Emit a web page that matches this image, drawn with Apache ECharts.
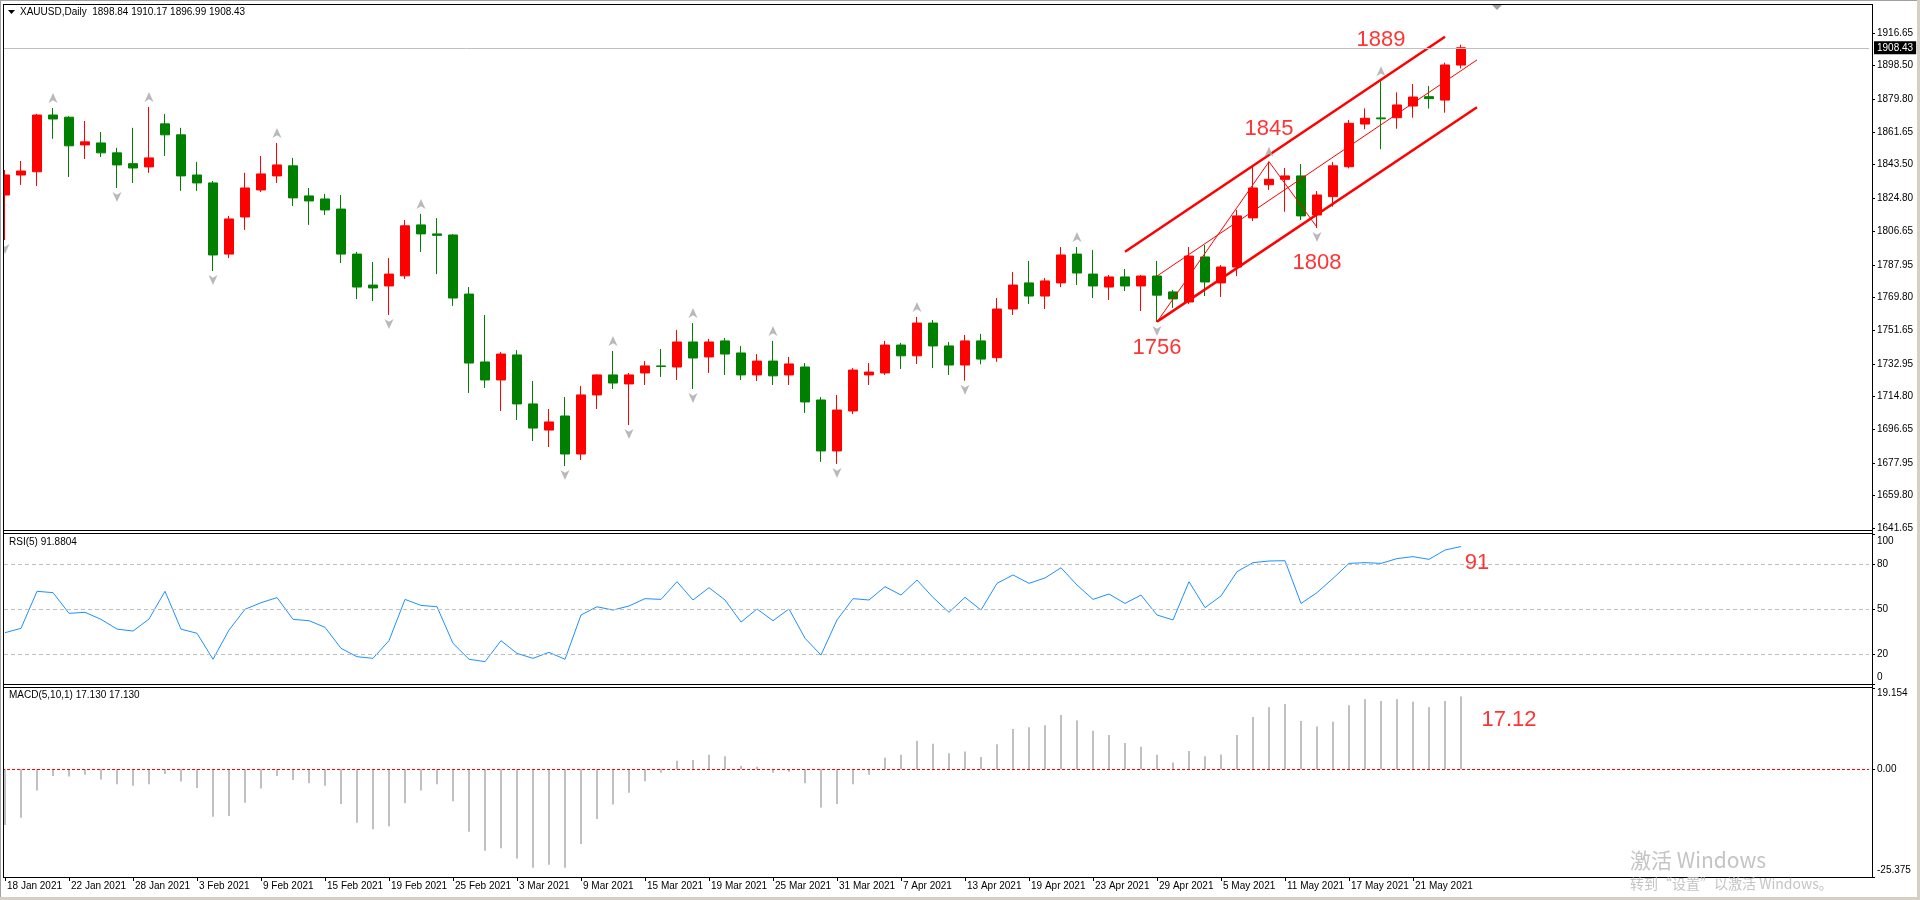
<!DOCTYPE html>
<html><head><meta charset="utf-8">
<script src="https://cdn.jsdelivr.net/npm/echarts@6/dist/echarts.min.js"></script>
<style>html,body{margin:0;padding:0;background:#fff}#c{width:1920px;height:900px}</style>
</head><body><div id="c"></div>
<script>
// ---------- DATA ----------
const dates = ['2021-01-18','2021-01-19','2021-01-20','2021-01-21','2021-01-22','2021-01-25','2021-01-26','2021-01-27','2021-01-28','2021-01-29',
'2021-02-01','2021-02-02','2021-02-03','2021-02-04','2021-02-05','2021-02-08','2021-02-09','2021-02-10','2021-02-11','2021-02-12',
'2021-02-15','2021-02-16','2021-02-17','2021-02-18','2021-02-19','2021-02-22','2021-02-23','2021-02-24','2021-02-25','2021-02-26',
'2021-03-01','2021-03-02','2021-03-03','2021-03-04','2021-03-05','2021-03-08','2021-03-09','2021-03-10','2021-03-11','2021-03-12',
'2021-03-15','2021-03-16','2021-03-17','2021-03-18','2021-03-19','2021-03-22','2021-03-23','2021-03-24','2021-03-25','2021-03-26',
'2021-03-29','2021-03-30','2021-03-31','2021-04-01','2021-04-05','2021-04-06','2021-04-07','2021-04-08','2021-04-09','2021-04-12',
'2021-04-13','2021-04-14','2021-04-15','2021-04-16','2021-04-19','2021-04-20','2021-04-21','2021-04-22','2021-04-23','2021-04-26',
'2021-04-27','2021-04-28','2021-04-29','2021-04-30','2021-05-03','2021-05-04','2021-05-05','2021-05-06','2021-05-07','2021-05-10',
'2021-05-11','2021-05-12','2021-05-13','2021-05-14','2021-05-17','2021-05-18','2021-05-19','2021-05-20','2021-05-21','2021-05-24',
'2021-05-25','2021-05-26'];
const opens = [1826.7,1837.8,1839.6,1871.1,1869.9,1854.5,1855.6,1850.1,1844.1,1842.3,
1866.2,1860.1,1837.8,1833.4,1793.9,1814.5,1829.5,1837.3,1842.9,1826.2,
1824.5,1818.9,1793.9,1776.7,1776.2,1781.8,1810.1,1805.1,1804.5,1771.7,
1734.0,1724.0,1737.9,1710.7,1696.2,1704.0,1682.9,1715.7,1726.8,1721.8,
1727.9,1731.8,1731.2,1745.1,1736.8,1745.7,1739.0,1726.8,1734.5,1726.8,
1731.2,1712.9,1684.6,1706.8,1726.8,1727.9,1743.4,1737.4,1755.6,1742.9,
1732.3,1745.7,1736.4,1763.4,1777.9,1770.6,1777.9,1793.9,1782.8,1775.6,
1781.2,1776.2,1781.7,1772.9,1767.3,1792.3,1777.9,1786.7,1814.0,1832.4,
1835.4,1837.3,1815.6,1825.8,1842.4,1866.1,1869.5,1869.6,1876.1,1881.3,
1879.4,1898.84];
const highs = [1840.6,1845.6,1871.7,1875.0,1870.5,1867.8,1861.7,1852.9,1864.0,1875.6,
1871.7,1864.0,1845.1,1834.5,1815.1,1839.0,1848.4,1855.6,1847.3,1830.6,
1827.3,1826.7,1795.1,1789.5,1791.7,1812.8,1816.2,1813.9,1805.0,1775.6,
1760.1,1739.5,1740.6,1723.4,1707.9,1714.5,1720.7,1727.0,1740.1,1727.9,
1734.5,1741.2,1751.8,1755.6,1746.8,1747.3,1742.9,1738.4,1745.7,1736.8,
1733.4,1714.5,1715.7,1730.6,1733.4,1745.7,1744.6,1759.0,1757.3,1745.1,
1749.0,1749.6,1769.5,1784.0,1790.1,1780.6,1797.8,1797.8,1796.2,1782.3,
1785.6,1782.3,1790.1,1774.0,1797.8,1798.9,1787.8,1818.4,1842.3,1845.2,
1841.7,1843.9,1828.9,1845.0,1868.3,1874.8,1889.9,1883.7,1888.4,1887.2,
1900.2,1910.17];
const lows = [1801.7,1832.3,1831.7,1857.9,1836.7,1846.7,1847.8,1830.6,1833.4,1839.0,
1848.4,1829.0,1829.0,1784.5,1791.7,1807.3,1828.4,1833.4,1820.6,1810.1,
1815.6,1788.9,1768.9,1767.8,1760.1,1780.1,1795.1,1782.8,1765.1,1716.8,
1719.6,1706.8,1701.8,1690.1,1686.8,1676.2,1679.6,1707.9,1719.0,1699.0,
1721.2,1725.7,1724.0,1719.0,1727.9,1726.8,1724.0,1723.4,1721.2,1721.2,
1705.7,1678.5,1677.4,1705.1,1721.2,1726.8,1730.1,1732.9,1730.6,1726.8,
1723.6,1732.7,1734.1,1760.1,1766.2,1763.4,1775.6,1776.7,1769.5,1768.4,
1773.4,1762.3,1756.2,1764.0,1766.2,1770.6,1770.1,1781.7,1812.3,1829.5,
1817.4,1812.8,1808.4,1820.2,1841.5,1863.2,1852.1,1863.5,1869.6,1874.7,
1872.4,1896.99];
const closes = [1837.8,1840.0,1871.1,1868.9,1854.0,1856.2,1850.1,1843.4,1841.7,1847.3,
1860.1,1837.3,1833.4,1793.4,1813.4,1830.6,1838.4,1843.4,1825.1,1823.4,
1818.4,1793.9,1775.6,1775.1,1782.8,1809.6,1805.1,1804.3,1769.5,1733.4,
1724.0,1738.4,1710.7,1697.3,1700.7,1682.9,1715.7,1726.8,1722.3,1726.8,
1731.8,1731.5,1745.1,1736.2,1745.1,1738.4,1726.8,1734.5,1726.3,1732.9,
1711.8,1684.6,1707.3,1729.5,1728.4,1743.4,1737.4,1755.6,1742.9,1732.3,
1745.7,1735.6,1763.4,1776.7,1770.6,1779.0,1793.4,1783.4,1776.2,1781.2,
1776.2,1781.7,1771.1,1769.0,1792.8,1778.4,1786.7,1815.1,1830.6,1835.4,
1837.3,1815.1,1826.7,1842.9,1866.5,1869.3,1869.0,1876.7,1881.1,1880.2,
1898.9,1908.43];
const rsi = [34.4,37.3,62.0,61.1,47.3,48.0,43.3,36.8,35.5,43.5,
62.0,36.8,34.0,16.7,36.2,50.0,54.4,57.8,43.3,42.4,
38.0,24.0,18.4,17.3,29.1,56.6,52.6,51.7,27.3,16.7,
15.1,29.1,20.6,17.3,21.3,16.7,46.2,51.7,49.5,52.2,
57.1,56.6,68.4,56.2,64.4,56.2,41.5,50.2,42.4,50.2,
30.7,19.5,42.9,57.1,56.2,65.1,59.5,69.5,57.9,48.0,
58.0,49.5,67.3,72.9,67.3,70.9,77.7,66.2,56.6,60.2,
53.9,59.5,46.2,42.9,68.4,51.1,58.9,75.1,81.1,82.2,
82.4,53.9,61.1,70.6,80.6,81.1,80.6,83.8,85.1,83.3,
89.5,91.88];
const macd = [-13.1,-11.4,-5.0,-1.6,-1.7,-1.3,-2.4,-3.5,-3.9,-3.5,
-1.1,-2.9,-4.4,-11.2,-11.0,-7.9,-4.5,-1.6,-2.5,-3.3,
-3.9,-8.2,-12.6,-14.1,-13.4,-8.0,-5.0,-3.5,-7.5,-14.7,
-19.2,-18.6,-21.0,-23.2,-22.5,-23.2,-17.6,-11.7,-8.3,-5.5,
-2.8,-0.8,2.0,2.2,3.4,3.1,0.8,0.6,-0.8,-0.6,
-3.3,-9.0,-8.2,-3.5,-1.3,2.7,3.4,6.7,6.0,3.8,
4.2,2.9,5.9,9.5,9.9,10.4,12.8,11.5,9.1,8.1,
6.2,5.3,3.4,1.6,4.3,3.1,3.5,8.1,12.3,14.6,
15.4,11.4,10.1,11.2,15.1,16.5,16.1,16.5,15.9,14.6,
16.1,17.13];
const priceTicks = [1641.65,1659.80,1677.95,1696.65,1714.80,1732.95,1751.65,1769.80,1787.95,1806.65,1824.80,1843.50,1861.65,1879.80,1898.50,1916.65];
const rsiTicks = [0,20,50,80,100];
const rsiLevels = [20,50,80];
const macdTicks = [-25.375,0,19.154];
const macdTickLabels = ['-25.375','0.00','19.154'];
const fractalUp = [3,9,17,26,38,43,48,57,67,79,86];
const fractalDown = [0,7,13,24,35,39,43,52,60,72,82];
const channelUpper = [[70,1795.2],[90,1914.6]];
const channelLower = [[72,1756.4],[92,1875.4]];
const channelMid = [[72,1781.7],[92,1901.7]];
const zigzag = [[72,1756.2],[79,1845.2],[82,1808.8]];
const priceNotes = [[86,1912.8,'1889'],[79,1863.6,'1845'],[82,1788.9,'1808'],[72,1742.0,'1756']];
const rsiNotes = [[92,81.2,'91']];
const macdNotes = [[94,11.7,'17.12']];
const lastPrice = 1908.43;

// ---------- CHART ----------
const SLOTS = 117;
const cats = dates.concat(Array.from({length: SLOTS - dates.length}, (_, i) => 'pad' + i));
const MON = ['Jan','Feb','Mar','Apr','May','Jun','Jul','Aug','Sep','Oct','Nov','Dec'];
const fmtDate = d => d.startsWith('pad') ? '' : (+d.slice(8)) + ' ' + MON[+d.slice(5,7)-1] + ' ' + d.slice(0,4);
const showIdx = i => i < dates.length && i % 4 === 0;
const FONT = 'Liberation Sans';
const small = {fontSize:10, fontFamily:FONT, color:'#000'};

const chart = echarts.init(document.getElementById('c'), null, {renderer:'canvas', width:1920, height:900});

const xBase = {type:'category', data:cats, boundaryGap:true, axisLine:{show:false, onZero:false}, axisTick:{show:false},
  axisLabel:{show:false}, splitLine:{show:false}};

const candleData = opens.map((o,i) => [o, closes[i], lows[i], highs[i]]);
const upArrow = 'path://M5,0L10,11L5,8L0,11Z';
const downArrow = 'path://M0,0L5,3L10,0L5,11Z';

const noteSeries = (notes, xi, yi) => ({
  type:'scatter', xAxisIndex:xi, yAxisIndex:yi, silent:true, z:6,
  data: notes.map(n => ({value:[n[0], n[1]], name:n[2]})),
  symbol:'circle', symbolSize:1, itemStyle:{color:'rgba(0,0,0,0)'},
  label:{show:true, position:'inside', formatter:'{b}', color:'#ff0000', fontSize:22, fontFamily:FONT}
});

const lineSeries = (data, w) => ({
  type:'line', xAxisIndex:0, yAxisIndex:0, data, symbol:'none', silent:true, z:4,
  lineStyle:{color:'#ff0000', width:w}
});

const header = 'XAUUSD,Daily  ' + [opens[91], highs[91], lows[91], closes[91]].map(v => v.toFixed(2)).join(' ');

const rect = (x,y,w,h,fill,z) => ({type:'rect', shape:{x,y,width:w,height:h}, style:{fill}, z:z||100, silent:true});
const text = (t,x,y,size,fill,fam) => ({type:'text', x, y, z:101, silent:true,
  style:{text:t, fontSize:size, fontFamily:fam||FONT, fill, verticalAlign:'middle', textVerticalAlign:'middle'}});

const option = {
  animation:false,
  backgroundColor:'#ffffff',
  grid:[
    {left:-3, top:5, width:1872, height:523.3, outerBoundsMode:'none', containLabel:false},
    {left:-3, top:534.3, width:1872, height:150, outerBoundsMode:'none', containLabel:false},
    {left:-3, top:688, width:1872, height:189, outerBoundsMode:'none', containLabel:false}
  ],
  xAxis:[
    Object.assign({}, xBase, {gridIndex:0}),
    Object.assign({}, xBase, {gridIndex:1}),
    Object.assign({}, xBase, {gridIndex:2, position:'bottom',
      axisLine:{show:true, onZero:false, lineStyle:{color:'#000', width:1}},
      axisTick:{show:true, alignWithLabel:true, interval:showIdx, length:4, lineStyle:{color:'#000'}},
      axisLabel:Object.assign({show:true, interval:showIdx, formatter:fmtDate, align:'left', margin:4, padding:[0,0,0,2], hideOverlap:false}, small)})
  ],
  yAxis:[
    {gridIndex:0, type:'value', position:'right', offset:3, min:1641.65, max:1932.19, splitLine:{show:false},
      axisLine:{show:true, lineStyle:{color:'#000'}},
      axisTick:{show:true, length:3, customValues:priceTicks, lineStyle:{color:'#000'}},
      axisLabel:Object.assign({customValues:priceTicks, formatter:v => v.toFixed(2), margin:5}, small)},
    {gridIndex:1, type:'value', position:'right', offset:3, min:0, max:100, splitLine:{show:false},
      axisLine:{show:true, lineStyle:{color:'#000'}},
      axisTick:{show:true, length:3, customValues:rsiTicks, lineStyle:{color:'#000'}},
      axisLabel:Object.assign({customValues:rsiTicks, margin:5,
        formatter:v => v === 100 ? '{t|100}' : (v === 0 ? '{b|0}' : String(v)),
        rich:{t:Object.assign({padding:[13,0,0,0]}, small), b:Object.assign({padding:[0,0,14,0]}, small)}}, small)},
    {gridIndex:2, type:'value', position:'right', offset:3, min:-25.375, max:19.154, splitLine:{show:false},
      axisLine:{show:true, lineStyle:{color:'#000'}},
      axisTick:{show:true, length:3, customValues:macdTicks, lineStyle:{color:'#000'}},
      axisLabel:Object.assign({customValues:macdTicks, margin:5,
        formatter:v => { const i = macdTicks.indexOf(v); const s = i >= 0 ? macdTickLabels[i] : '';
          return i === 2 ? '{t|' + s + '}' : (i === 0 ? '{b|' + s + '}' : s); },
        rich:{t:Object.assign({padding:[11,0,0,0]}, small), b:Object.assign({padding:[0,0,13,0]}, small)}}, small)}
  ],
  series:[
    {type:'candlestick', xAxisIndex:0, yAxisIndex:0, data:candleData, barWidth:10, clip:true, silent:true, z:3,
      itemStyle:{color:'#ff0000', color0:'#008000', borderColor:'#ff0000', borderColor0:'#008000', borderWidth:1},
      markLine:{silent:true, symbol:'none', animation:false,
        data:[{yAxis:lastPrice}],
        lineStyle:{color:'#c0c0c0', type:'solid', width:1},
        label:{show:true, position:'end', distance:5, formatter:lastPrice.toFixed(2), backgroundColor:'#000',
          color:'#fff', padding:[2,3,1,3], fontSize:10, fontFamily:FONT}}},
    {type:'scatter', xAxisIndex:0, yAxisIndex:0, silent:true, z:5,
      data:fractalUp.map(i => [i, highs[i]]), symbol:upArrow, symbolSize:[9,10], symbolOffset:[0,-10],
      itemStyle:{color:'#a8a8a8'}},
    {type:'scatter', xAxisIndex:0, yAxisIndex:0, silent:true, z:5,
      data:fractalDown.map(i => [i, lows[i]]), symbol:downArrow, symbolSize:[9,10], symbolOffset:[0,9],
      itemStyle:{color:'#a8a8a8'}},
    lineSeries(channelUpper, 2.5),
    lineSeries(channelLower, 2.5),
    lineSeries(channelMid, 1),
    lineSeries(zigzag, 1),
    noteSeries(priceNotes, 0, 0),
    {type:'line', xAxisIndex:1, yAxisIndex:1, data:rsi, symbol:'none', silent:true, z:4,
      lineStyle:{color:'#1e90ff', width:1},
      markLine:{silent:true, symbol:'none', animation:false, label:{show:false},
        lineStyle:{color:'#c0c0c0', type:[4,3], width:1},
        data:rsiLevels.map(v => ({yAxis:v}))}},
    noteSeries(rsiNotes, 1, 1),
    {type:'bar', xAxisIndex:2, yAxisIndex:2, data:macd, barWidth:2, silent:true, z:3,
      itemStyle:{color:'#c0c0c0'},
      markLine:{silent:true, symbol:'none', animation:false, label:{show:false},
        lineStyle:{color:'#ff0000', type:[3,2], width:1},
        data:[{yAxis:0}]}},
    noteSeries(macdNotes, 2, 2)
  ],
  graphic:[
    rect(0,4,3,874,'#ffffff',99),
    rect(0,0,1920,1,'#a0a0a0'),
    rect(0,0,1,900,'#a0a0a0'),
    rect(0,897,1920,3,'#d4d0c8'),
    rect(1917,0,3,900,'#d4d0c8'),
    rect(3,4,1870,1,'#000'),
    rect(3,4,1,874,'#000'),
    rect(3,530,1870,1,'#000'),
    rect(3,533,1870,1,'#000'),
    rect(3,684,1870,1,'#000'),
    rect(3,687,1870,1,'#000'),
    rect(3,877,1870,1,'#000'),
    rect(1872,4,1,874,'#000'),
    {type:'polygon', shape:{points:[[8,10],[15,10],[11.5,14]]}, style:{fill:'#000'}, z:101, silent:true},
    {type:'polygon', shape:{points:[[1492,5],[1502,5],[1497,10]]}, style:{fill:'#a0a0a0'}, z:101, silent:true},
    text(header, 20, 12.5, 10, '#000'),
    text('RSI(5) 91.8804', 9, 542.5, 10, '#000'),
    text('MACD(5,10,1) 17.130 17.130', 9, 695.5, 10, '#000'),
    text('激活 Windows', 1630, 860, 21, '#c4c4c4', 'Noto Sans CJK SC'),
    text('转到“设置”以激活 Windows。', 1630, 884, 14, '#c4c4c4', 'Noto Sans CJK SC')
  ]
};
chart.setOption(option);
</script>
</body></html>
